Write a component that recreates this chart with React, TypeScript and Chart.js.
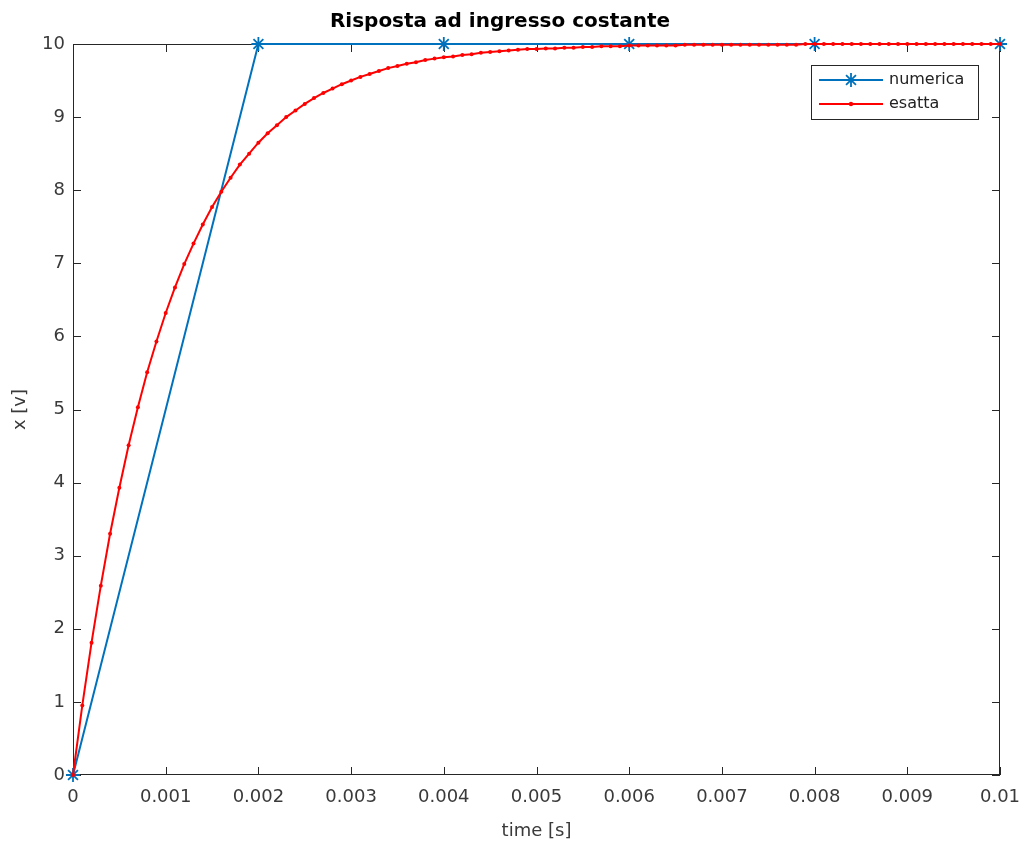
import React, { useEffect, useRef } from 'react';
import { Chart, registerables } from 'chart.js';

Chart.register(...registerables);

const TITLE = 'Risposta ad ingresso costante';
const X_LABEL = 'time [s]';
const Y_LABEL = 'x [v]';
const LEGEND_LABELS = ['numerica', 'esatta'];

const NUM_T = [0, 0.002, 0.004, 0.006, 0.008, 0.01];
const NUM_X = [0, 10, 10, 10, 10, 10];

const EXACT_T = [
  0, 0.0001, 0.0002, 0.0003, 0.0004, 0.0005, 0.0006, 0.0007, 0.0008, 0.0009,
  0.001, 0.0011, 0.0012, 0.0013, 0.0014, 0.0015, 0.0016, 0.0017, 0.0018, 0.0019,
  0.002, 0.0021, 0.0022, 0.0023, 0.0024, 0.0025, 0.0026, 0.0027, 0.0028, 0.0029,
  0.003, 0.0031, 0.0032, 0.0033, 0.0034, 0.0035, 0.0036, 0.0037, 0.0038, 0.0039,
  0.004, 0.0041, 0.0042, 0.0043, 0.0044, 0.0045, 0.0046, 0.0047, 0.0048, 0.0049,
  0.005, 0.0051, 0.0052, 0.0053, 0.0054, 0.0055, 0.0056, 0.0057, 0.0058, 0.0059,
  0.006, 0.0061, 0.0062, 0.0063, 0.0064, 0.0065, 0.0066, 0.0067, 0.0068, 0.0069,
  0.007, 0.0071, 0.0072, 0.0073, 0.0074, 0.0075, 0.0076, 0.0077, 0.0078, 0.0079,
  0.008, 0.0081, 0.0082, 0.0083, 0.0084, 0.0085, 0.0086, 0.0087, 0.0088, 0.0089,
  0.009, 0.0091, 0.0092, 0.0093, 0.0094, 0.0095, 0.0096, 0.0097, 0.0098, 0.0099,
  0.01,
];
const EXACT_X = [
  0, 0.95, 1.81, 2.59, 3.3, 3.93, 4.51, 5.03, 5.51, 5.93,
  6.32, 6.67, 6.99, 7.27, 7.53, 7.77, 7.98, 8.17, 8.35, 8.5,
  8.65, 8.78, 8.89, 9.0, 9.09, 9.18, 9.26, 9.33, 9.39, 9.45,
  9.5, 9.55, 9.59, 9.63, 9.67, 9.7, 9.73, 9.75, 9.78, 9.8,
  9.82, 9.83, 9.85, 9.86, 9.88, 9.89, 9.9, 9.91, 9.92, 9.93,
  9.93, 9.94, 9.94, 9.95, 9.95, 9.96, 9.96, 9.97, 9.97, 9.97,
  9.98, 9.98, 9.98, 9.98, 9.98, 9.98, 9.99, 9.99, 9.99, 9.99,
  9.99, 9.99, 9.99, 9.99, 9.99, 9.99, 9.99, 9.99, 9.99, 10,
  10, 10, 10, 10, 10, 10, 10, 10, 10, 10,
  10, 10, 10, 10, 10, 10, 10, 10, 10, 10,
  10,
];

const BLUE = '#0072BD';
const RED = '#FF0000';
const AXIS = '#262626';
const TICK_TEXT = '#3a3a3a';
const FONT = 'DejaVu Sans';

function drawStar(ctx: CanvasRenderingContext2D, x: number, y: number, r: number) {
  ctx.beginPath();
  ctx.moveTo(x - r, y);
  ctx.lineTo(x + r, y);
  ctx.moveTo(x, y - r);
  ctx.lineTo(x, y + r);
  const d = r * Math.SQRT1_2;
  ctx.moveTo(x - d, y - d);
  ctx.lineTo(x + d, y + d);
  ctx.moveTo(x - d, y + d);
  ctx.lineTo(x + d, y - d);
  ctx.stroke();
}

const framePlugin = {
  id: 'matlabFrame',
  beforeDatasetsDraw(chart: any) {
    const { ctx, chartArea: a, scales } = chart;
    ctx.save();
    ctx.strokeStyle = AXIS;
    ctx.lineWidth = 1;
    ctx.strokeRect(a.left + 0.5, a.top + 0.5, a.right - a.left - 1, a.bottom - a.top - 1);
    const tl = 8;
    ctx.beginPath();
    scales.x.ticks.forEach((t: any) => {
      const px = Math.round(scales.x.getPixelForValue(t.value)) + 0.5;
      ctx.moveTo(px, a.bottom);
      ctx.lineTo(px, a.bottom - tl);
      ctx.moveTo(px, a.top);
      ctx.lineTo(px, a.top + tl);
    });
    scales.y.ticks.forEach((t: any) => {
      const py = Math.round(scales.y.getPixelForValue(t.value)) + 0.5;
      ctx.moveTo(a.left, py);
      ctx.lineTo(a.left + tl, py);
      ctx.moveTo(a.right, py);
      ctx.lineTo(a.right - tl, py);
    });
    ctx.stroke();
    ctx.restore();
  },
  afterDatasetsDraw(chart: any) {
    const { ctx } = chart;
    ctx.save();
    const bx = 811.5, by = 65.5, bw = 167, bh = 54;
    ctx.fillStyle = '#ffffff';
    ctx.fillRect(bx, by, bw, bh);
    ctx.strokeStyle = AXIS;
    ctx.lineWidth = 1;
    ctx.strokeRect(bx, by, bw, bh);
    const rows = [80, 104];
    const colors = [BLUE, RED];
    rows.forEach((y, i) => {
      ctx.strokeStyle = colors[i];
      ctx.lineWidth = 2;
      ctx.beginPath();
      ctx.moveTo(819, y);
      ctx.lineTo(883, y);
      ctx.stroke();
      if (i === 0) {
        ctx.lineWidth = 1.8;
        drawStar(ctx, 851, y, 7);
      } else {
        ctx.fillStyle = RED;
        ctx.beginPath();
        ctx.arc(851, y, 2.2, 0, Math.PI * 2);
        ctx.fill();
      }
      ctx.fillStyle = '#222';
      ctx.font = `16px "${FONT}"`;
      ctx.textBaseline = 'middle';
      ctx.textAlign = 'left';
      ctx.fillText(LEGEND_LABELS[i], 889, y);
    });
    ctx.restore();
  },
};

export default function App() {
  const ref = useRef<HTMLCanvasElement | null>(null);

  useEffect(() => {
    if (!ref.current) return;
    const chart = new Chart(ref.current, {
      type: 'line',
      data: {
        datasets: [
          {
            label: LEGEND_LABELS[0],
            data: NUM_T.map((t, i) => ({ x: t, y: NUM_X[i] })),
            borderColor: BLUE,
            backgroundColor: BLUE,
            borderWidth: 2,
            pointStyle: 'star',
            pointRadius: 7,
            pointBorderWidth: 1.8,
            pointBorderColor: BLUE,
            fill: false,
            tension: 0,
            clip: false,
            order: 2,
          },
          {
            label: LEGEND_LABELS[1],
            data: EXACT_T.map((t, i) => ({ x: t, y: EXACT_X[i] })),
            borderColor: RED,
            backgroundColor: RED,
            borderWidth: 2,
            pointStyle: 'circle',
            pointRadius: 2,
            pointBorderWidth: 0,
            fill: false,
            tension: 0,
            clip: false,
            order: 1,
          },
        ],
      },
      options: {
        animation: false,
        responsive: false,
        devicePixelRatio: 1,
        layout: { padding: { left: 0, right: 23, top: 0, bottom: 0 } },
        plugins: {
          legend: { display: false },
          tooltip: { enabled: false },
          title: {
            display: true,
            text: TITLE,
            color: '#000',
            font: { family: FONT, size: 20, weight: 'bold' },
            padding: { top: 10, bottom: 10 },
          },
        },
        scales: {
          x: {
            type: 'linear',
            min: 0,
            max: 0.01,
            afterFit: (s: any) => {
              s.height = 69;
              s.paddingLeft = 0;
              s.paddingRight = 0;
            },
            grid: { display: false, drawTicks: false },
            border: { display: false },
            ticks: {
              stepSize: 0.001,
              padding: 12,
              color: TICK_TEXT,
              font: { family: FONT, size: 18 },
              maxRotation: 0,
              autoSkip: false,
              callback: (v: any) => String(Number(Number(v).toFixed(3))),
            },
            title: {
              display: true,
              text: X_LABEL,
              color: TICK_TEXT,
              font: { family: FONT, size: 18 },
              padding: { top: 0, bottom: 2 },
            },
          },
          y: {
            type: 'linear',
            min: 0,
            max: 10,
            afterFit: (s: any) => {
              s.width = 73;
              s.paddingTop = 0;
              s.paddingBottom = 0;
            },
            grid: { display: false, drawTicks: false },
            border: { display: false },
            ticks: {
              stepSize: 1,
              padding: 8,
              color: TICK_TEXT,
              font: { family: FONT, size: 18 },
              autoSkip: false,
            },
            title: {
              display: true,
              text: Y_LABEL,
              color: TICK_TEXT,
              font: { family: FONT, size: 18 },
              padding: { top: 10, bottom: 0 },
            },
          },
        },
      },
      plugins: [framePlugin],
    } as any);
    return () => chart.destroy();
  }, []);

  return (
    <div style={{ position: 'fixed', left: 0, top: 0, width: 1023, height: 844, background: '#fff' }}>
      <canvas ref={ref} width={1023} height={844} style={{ display: 'block', width: 1023, height: 844 }} />
    </div>
  );
}
